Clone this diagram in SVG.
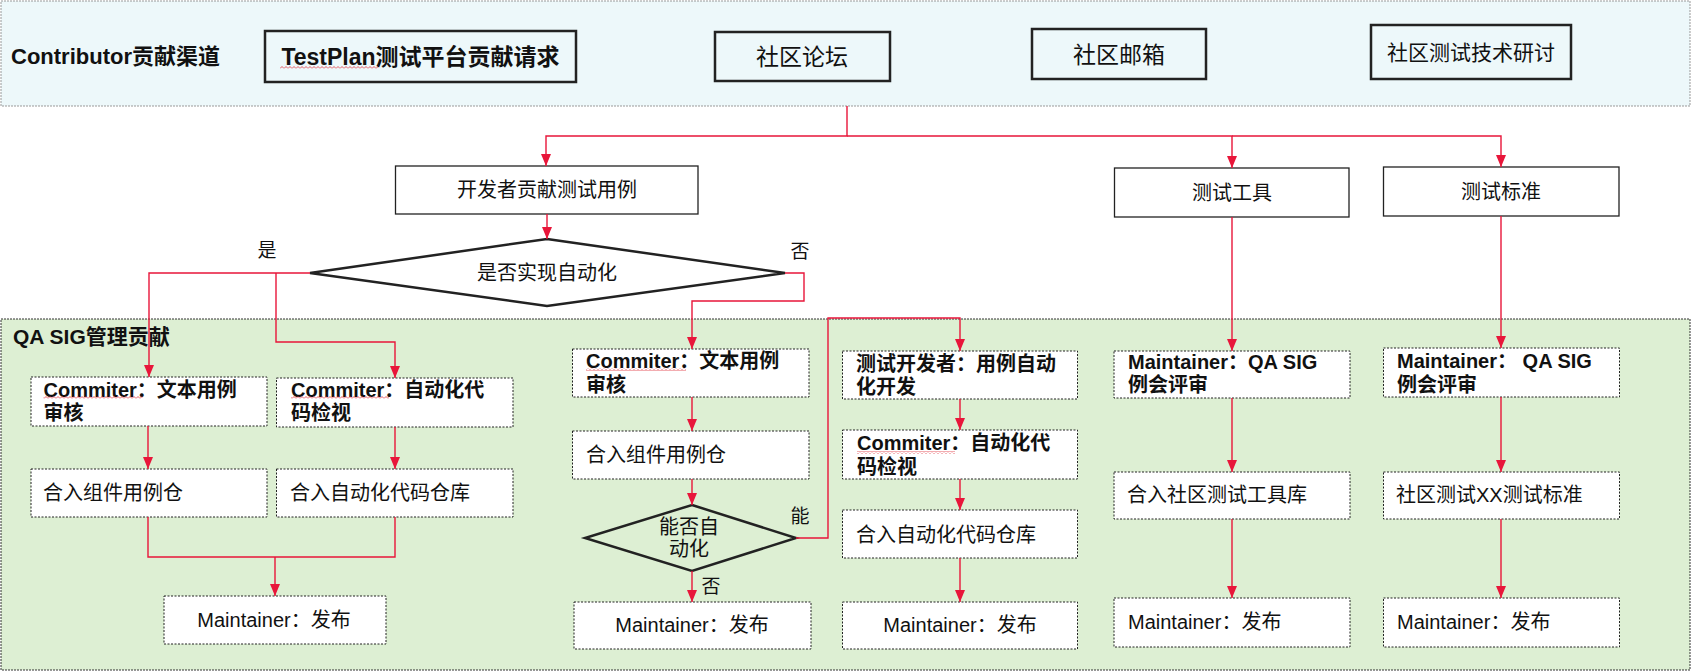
<svg xmlns="http://www.w3.org/2000/svg" width="1692" height="671" viewBox="0 0 1692 671">
<style>
.t{font-family:"Liberation Sans","Noto Sans CJK SC",sans-serif;font-size:20px;fill:#111}
.b{font-weight:bold}
.m{text-anchor:middle}
.ptop{fill:#EDF8FA;stroke:#999;stroke-width:1;stroke-dasharray:2 1}
.pbot{fill:#DDEFD3;stroke:#333;stroke-width:1;stroke-dasharray:2 1}
.bx3{fill:none;stroke:#222;stroke-width:2.5}
.bx1{fill:#fff;stroke:#222;stroke-width:1.3}
.bxd{fill:#fff;stroke:#222;stroke-width:1;stroke-dasharray:2 1.5}
.dia{stroke:#222;stroke-width:2.5}
.c{fill:none;stroke:#E8163A;stroke-width:1.4}
.ca{fill:none;stroke:#E8163A;stroke-width:1.4;marker-end:url(#ah)}
.sq{fill:url(#sqp)}
</style>
<defs>
<marker id="ah" viewBox="0 0 12 10" refX="12" refY="5" markerWidth="12" markerHeight="10" markerUnits="userSpaceOnUse" orient="auto">
<path d="M0,0 L12,5 L0,10 z" fill="#E8163A"/>
</marker>
<pattern id="sqp" width="4" height="3" patternUnits="userSpaceOnUse">
<path d="M0,2.5 L2,0.5 L4,2.5" fill="none" stroke="#E0303A" stroke-width="0.8"/>
</pattern>
</defs>

<g id="panel-contributor">
<rect class="ptop" x="1" y="1" width="1689" height="105"/>
<text class="t b" x="11" y="64" style="font-size:22px">Contributor贡献渠道</text>
</g>
<g id="panel-qasig">
<rect class="pbot" x="1" y="319" width="1689" height="351"/>
<text class="t b" x="13" y="344" style="font-size:21px">QA SIG管理贡献</text>
</g>

<g id="n-testplan">
<rect class="bx3" x="265" y="31" width="311" height="51"/>
<text class="t b m" x="420.5" y="65" style="font-size:23px">TestPlan测试平台贡献请求</text>
<rect class="sq" x="280" y="66" width="98" height="3"/>
</g>
<g id="n-forum">
<rect class="bx3" x="715" y="32" width="175" height="49"/>
<text class="t m" x="802" y="65" style="font-size:23px">社区论坛</text>
</g>
<g id="n-mail">
<rect class="bx3" x="1032" y="29" width="174" height="50"/>
<text class="t m" x="1119" y="63" style="font-size:23px">社区邮箱</text>
</g>
<g id="n-seminar">
<rect class="bx3" x="1371" y="25" width="200" height="54"/>
<text class="t m" x="1471" y="59.5" style="font-size:21px">社区测试技术研讨</text>
</g>

<g id="n-dev">
<rect class="bx1" x="395.5" y="166" width="302.5" height="48"/>
<text class="t m" x="547" y="197">开发者贡献测试用例</text>
</g>
<g id="n-tool">
<rect class="bx1" x="1114.5" y="168" width="234.5" height="49"/>
<text class="t m" x="1232" y="199.5">测试工具</text>
</g>
<g id="n-std">
<rect class="bx1" x="1383.5" y="167" width="235.5" height="49"/>
<text class="t m" x="1501" y="198.5">测试标准</text>
</g>

<g id="n-dia1">
<polygon class="dia" fill="#fff" points="547,239 785,273 547,306 310,273"/>
<text class="t m" x="547" y="279.5">是否实现自动化</text>
</g>

<g id="n-a">
<rect class="bxd" x="31" y="377" width="236" height="49"/>
<text class="t b" x="43.5" y="397">Commiter：文本用例</text>
<text class="t b" x="43.5" y="420">审核</text>
<rect class="sq" x="43.5" y="396" width="99" height="3"/>
</g>
<g id="n-b">
<rect class="bxd" x="276.5" y="378" width="236.5" height="49"/>
<text class="t b" x="291" y="397">Commiter：自动化代</text>
<text class="t b" x="291" y="420">码检视</text>
<rect class="sq" x="291" y="396" width="98" height="3"/>
</g>
<g id="n-c">
<rect class="bxd" x="31" y="469" width="236" height="48"/>
<text class="t" x="43" y="500">合入组件用例仓</text>
</g>
<g id="n-d">
<rect class="bxd" x="276.5" y="469" width="236.5" height="48"/>
<text class="t" x="290" y="500">合入自动化代码仓库</text>
</g>
<g id="n-e">
<rect class="bxd" x="164" y="596" width="222" height="48"/>
<text class="t m" x="274" y="627">Maintainer：发布</text>
</g>

<g id="n-f">
<rect class="bxd" x="572.5" y="349" width="236.5" height="48"/>
<text class="t b" x="586" y="368">Commiter：文本用例</text>
<text class="t b" x="586" y="392">审核</text>
<rect class="sq" x="586" y="368" width="100" height="3"/>
</g>
<g id="n-g">
<rect class="bxd" x="572.5" y="431" width="236.5" height="48"/>
<text class="t" x="586" y="462">合入组件用例仓</text>
</g>
<g id="n-dia2">
<polygon class="dia" fill="none" points="692,505 796,538 692,571 585,538"/>
<text class="t m" x="689" y="534">能否自</text>
<text class="t m" x="689" y="556">动化</text>
</g>
<g id="n-h">
<rect class="bxd" x="574" y="602" width="237" height="47"/>
<text class="t m" x="692" y="632">Maintainer：发布</text>
</g>
<g id="n-i">
<rect class="bxd" x="842.5" y="351" width="235" height="48"/>
<text class="t b" x="856" y="371">测试开发者：用例自动</text>
<text class="t b" x="856" y="394">化开发</text>
</g>
<g id="n-j">
<rect class="bxd" x="842.5" y="430" width="235" height="49"/>
<text class="t b" x="857" y="450">Commiter：自动化代</text>
<text class="t b" x="857" y="474">码检视</text>
<rect class="sq" x="857" y="451" width="98" height="3"/>
</g>
<g id="n-k">
<rect class="bxd" x="842.5" y="510" width="235" height="48"/>
<text class="t" x="856" y="542">合入自动化代码仓库</text>
</g>
<g id="n-l">
<rect class="bxd" x="842.5" y="602" width="235" height="47"/>
<text class="t m" x="960" y="632">Maintainer：发布</text>
</g>

<g id="n-m">
<rect class="bxd" x="1114" y="351" width="236" height="47"/>
<text class="t b" x="1128" y="369">Maintainer：QA SIG</text>
<text class="t b" x="1128" y="392">例会评审</text>
</g>
<g id="n-n">
<rect class="bxd" x="1114" y="472" width="236" height="47"/>
<text class="t" x="1127" y="502">合入社区测试工具库</text>
</g>
<g id="n-o">
<rect class="bxd" x="1114" y="598" width="236" height="49"/>
<text class="t" x="1128" y="629">Maintainer：发布</text>
</g>
<g id="n-p">
<rect class="bxd" x="1383.5" y="348" width="236" height="49"/>
<text class="t b" x="1397" y="368">Maintainer： QA SIG</text>
<text class="t b" x="1397" y="392">例会评审</text>
</g>
<g id="n-q">
<rect class="bxd" x="1383.5" y="472" width="236" height="47"/>
<text class="t" x="1396" y="502">社区测试XX测试标准</text>
</g>
<g id="n-r">
<rect class="bxd" x="1383.5" y="598" width="236" height="49"/>
<text class="t" x="1397" y="629">Maintainer：发布</text>
</g>

<g id="connectors">
<path class="ca" d="M847,106 V136 H546 V166"/>
<path class="ca" d="M847,136 H1232 V168"/>
<path class="ca" d="M1232,136 H1501 V167"/>
<path class="ca" d="M547,214 V239"/>
<path class="ca" d="M310,273 H149 V377"/>
<path class="ca" d="M276,273 V342 H395 V378"/>
<path class="ca" d="M785,273 H804 V301 H692 V349"/>
<path class="ca" d="M148,426 V469"/>
<path class="ca" d="M395,427 V469"/>
<path class="c" d="M148,517 V557 H395 V517"/>
<path class="ca" d="M275,557 V596"/>
<path class="ca" d="M692,397 V431"/>
<path class="ca" d="M692,479 V505"/>
<path class="ca" d="M692,571 V602"/>
<path class="ca" d="M796,538 H828 V318 H960 V351"/>
<path class="ca" d="M960,399 V430"/>
<path class="ca" d="M960,479 V510"/>
<path class="ca" d="M960,558 V602"/>
<path class="ca" d="M1232,217 V351"/>
<path class="ca" d="M1232,398 V472"/>
<path class="ca" d="M1232,519 V598"/>
<path class="ca" d="M1501,216 V348"/>
<path class="ca" d="M1501,397 V472"/>
<path class="ca" d="M1501,519 V598"/>
<text class="t m" x="267" y="257" style="font-size:19px">是</text>
<text class="t m" x="800" y="258" style="font-size:19px">否</text>
<text class="t m" x="711" y="593" style="font-size:19px">否</text>
<text class="t m" x="800" y="523" style="font-size:19px">能</text>
</g>
</svg>
